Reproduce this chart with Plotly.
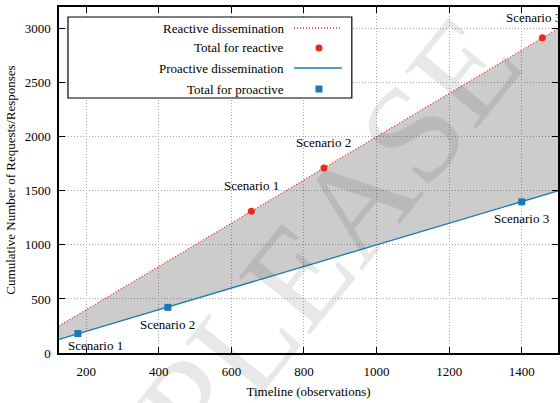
import plotly.graph_objects as go

# Timeline span covered by both dissemination lines
timeline = [125, 1500]
reactive_line = [250, 3000]
proactive_line = [125, 1500]

# Scenario totals
scenarios = ["Scenario 1", "Scenario 2", "Scenario 3"]
reactive_x = [655, 855, 1457]
reactive_y = [1310, 1710, 2915]
proactive_x = [177, 425, 1400]
proactive_y = [180, 422, 1398]

# label offsets in pixels (dx, dy) for each scenario label
reactive_offsets = [(0, 26), (0, 26), (-9, 20)]
proactive_offsets = [(18, -12), (0, -17), (0, -17)]

legend_labels = ["Reactive dissemination", "Total for reactive",
                 "Proactive dissemination", "Total for proactive"]

RED = "#e8291c"
BLUE = "#1a78b4"
FONT = "Liberation Serif"

W, H = 560, 403
ML, MR, MT, MB = 59, 0, 7, 50
PW, PH = W - ML - MR, H - MT - MB


def px(x):
    return (x - ML) / PW


def py(y):
    return (H - MB - y) / PH


fig = go.Figure()

fig.add_trace(go.Scatter(x=timeline, y=proactive_line, mode="lines",
                         line=dict(color=BLUE, width=1.3),
                         showlegend=False, hoverinfo="skip"))
fig.add_trace(go.Scatter(x=timeline, y=reactive_line, mode="lines",
                         line=dict(color=RED, width=1.3, dash="1px,2px"),
                         fill="tonexty", fillcolor="rgba(0,0,0,0.2)",
                         showlegend=False, hoverinfo="skip"))
fig.add_trace(go.Scatter(x=reactive_x, y=reactive_y, mode="markers",
                         marker=dict(color=RED, size=7, symbol="circle"),
                         showlegend=False))
fig.add_trace(go.Scatter(x=proactive_x, y=proactive_y, mode="markers",
                         marker=dict(color=BLUE, size=7, symbol="square"),
                         showlegend=False))

annotations = []
for name, x, y, (dx, dy) in zip(scenarios, reactive_x, reactive_y, reactive_offsets):
    annotations.append(dict(x=x, y=y, xref="x", yref="y", text=name, showarrow=False,
                            xshift=dx, yshift=dy, font=dict(family=FONT, size=13, color="black")))
for name, x, y, (dx, dy) in zip(scenarios, proactive_x, proactive_y, proactive_offsets):
    annotations.append(dict(x=x, y=y, xref="x", yref="y", text=name, showarrow=False,
                            xshift=dx, yshift=dy, font=dict(family=FONT, size=13, color="black")))

# Legend box drawn in paper space, text right-aligned with samples to the right
shapes = [dict(type="rect", xref="paper", yref="paper",
               x0=px(68), x1=px(353), y0=py(98), y1=py(17),
               line=dict(color="black", width=1.2), fillcolor="white", layer="above")]
rows = [28, 48, 68, 89]
for label, ry in zip(legend_labels, rows):
    annotations.append(dict(x=px(287), y=py(ry), xref="paper", yref="paper", text=label,
                            showarrow=False, xanchor="right", yanchor="middle",
                            font=dict(family=FONT, size=13, color="black")))
shapes.append(dict(type="line", xref="paper", yref="paper", x0=px(295), x1=px(343),
                   y0=py(rows[0]), y1=py(rows[0]), line=dict(color=RED, width=1.3, dash="1px,2px"),
                   layer="above"))
shapes.append(dict(type="circle", xref="paper", yref="paper", x0=px(316.5), x1=px(323.5),
                   y0=py(rows[1] + 3.5), y1=py(rows[1] - 3.5), fillcolor=RED,
                   line=dict(width=0), layer="above"))
shapes.append(dict(type="line", xref="paper", yref="paper", x0=px(295), x1=px(343),
                   y0=py(rows[2]), y1=py(rows[2]), line=dict(color=BLUE, width=1.3),
                   layer="above"))
shapes.append(dict(type="rect", xref="paper", yref="paper", x0=px(316.5), x1=px(323.5),
                   y0=py(rows[3] + 3.5), y1=py(rows[3] - 3.5), fillcolor=BLUE,
                   line=dict(width=0), layer="above"))

# Diagonal watermark
annotations.append(dict(x=px(330), y=py(235), xref="paper", yref="paper", text="PLEASE",
                        showarrow=False, textangle=-51, xanchor="center", yanchor="middle",
                        font=dict(family=FONT, size=140, color="rgba(0,0,0,0.09)")))

axis_common = dict(showline=True, linecolor="black", linewidth=1.5, mirror="ticks",
                   ticks="inside", ticklen=6, tickwidth=1.2, tickcolor="black",
                   showgrid=True, gridcolor="#a8a8a8", gridwidth=1, griddash="1px,2px",
                   zeroline=False, tickfont=dict(family=FONT, size=13, color="black"))

fig.update_layout(
    width=W, height=H,
    margin=dict(l=ML, r=MR, t=MT, b=MB),
    paper_bgcolor="white", plot_bgcolor="white",
    xaxis=dict(range=timeline, tickvals=[200, 400, 600, 800, 1000, 1200, 1400],
               title=dict(text="Timeline (observations)", standoff=9,
                          font=dict(family=FONT, size=13, color="black")),
               ticklabelstandoff=6, **axis_common),
    yaxis=dict(range=[0, 3200], tickvals=[0, 500, 1000, 1500, 2000, 2500, 3000],
               title=dict(text="Cumulative Number of Requests/Responses", standoff=6,
                          font=dict(family=FONT, size=13, color="black")),
               ticklabelstandoff=4, **axis_common),
    shapes=shapes,
    annotations=annotations,
    showlegend=False,
)

fig.write_html("out.html")
